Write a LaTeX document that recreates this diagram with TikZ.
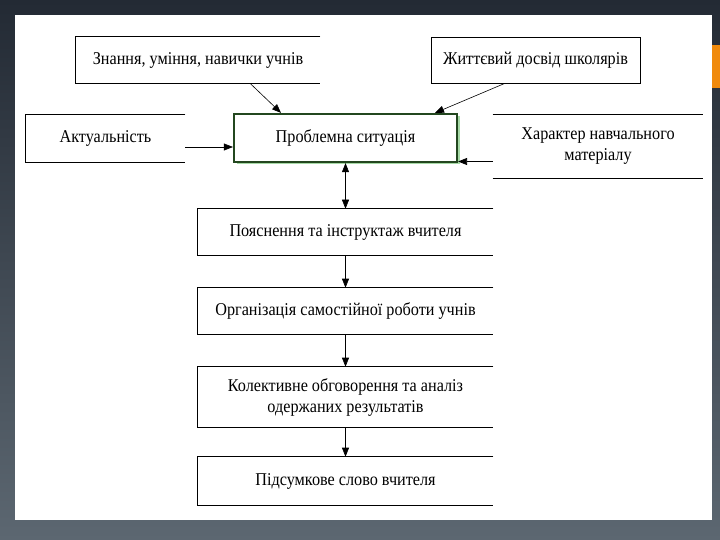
\documentclass[tikz,border=0pt]{standalone}
\usepackage{fontspec}
\setmainfont[FakeStretch=0.9]{Liberation Serif}
\usetikzlibrary{arrows.meta,positioning,shadows}
\definecolor{slidetop}{HTML}{232A34}
\definecolor{slidebot}{HTML}{5C6771}
\definecolor{tabcol}{HTML}{F08A0C}
\definecolor{framegreen}{HTML}{23471F}
\tikzset{arr/.style={-{Triangle[length=9pt,width=7pt]}},
  box/.style={minimum height=46pt, font=\fontsize{18}{21}\selectfont, align=center, inner sep=0pt}}

\begin{document}
\begin{tikzpicture}[x=1pt,y=-1pt,line width=0.6pt]
  \useasboundingbox (0,0) rectangle (720,540);
  % slide
  \shade[top color=slidetop, bottom color=slidebot] (0,0) rectangle (720,540);
  \fill[white] (15,15) rectangle (712,520);
  \fill[tabcol] (712,45) rectangle (720,88);
  % top row
  \node[box, minimum width=244pt] (skills) at (198,60) {Знання, уміння, навички учнів};
  \draw (skills.north east) -- (skills.north west) -- (skills.south west) -- (skills.south east);
  \node[box, draw, minimum width=209pt] (life) at (535.5,60) {Життєвий досвід школярів};
  % middle row
  \node[box, minimum width=159pt, minimum height=47pt] (actual) at (105.5,138.5) {Актуальність};
  \draw (actual.north east) -- (actual.north west) -- (actual.south west) -- (actual.south east);
  \node[box, minimum width=223pt, minimum height=48pt, draw=framegreen, line width=2.2pt, fill=white,
    drop shadow={shadow xshift=2.5pt, shadow yshift=-2.5pt, fill=gray!60!green!50, opacity=1}]
    (problem) at (345.5,138) {Проблемна ситуація};
  \node[box, minimum width=210pt, minimum height=63pt] (material) at (598,146.5) {Характер навчального\\матеріалу};
  \draw (material.north west) -- (material.north east);
  \draw (material.south west) -- (material.south east);
  % column
  \node[box, minimum width=295pt] (explain) at (345.5,232) {Пояснення та інструктаж вчителя};
  \node[box, minimum width=295pt] (organise) at (345.5,311) {Організація самостійної роботи учнів};
  \node[box, minimum width=295pt, minimum height=60pt] (discuss) at (345.5,397) {Колективне обговорення та аналіз\\одержаних результатів};
  \node[box, minimum width=295pt, minimum height=48pt] (summary) at (345.5,481) {Підсумкове слово вчителя};
  \foreach \n in {explain,organise,discuss,summary}
    \draw (\n.north east) -- (\n.north west) -- (\n.south west) -- (\n.south east);
  % arrows
  \draw[arr] ([xshift=52pt]skills.south) -- ([xshift=-64.5pt]problem.north);
  \draw[arr] ([xshift=-30.5pt]life.south) -- ([xshift=89.5pt]problem.north);
  \draw[arr] ([yshift=-8.5pt]actual.east) -- ([yshift=-9pt]problem.west);
  \draw[arr, line width=0.8pt] ([yshift=-15pt]material.west) -- ([yshift=-15pt]material.west -| problem.east);
  \draw[{Triangle[length=9pt,width=7pt]}-{Triangle[length=9pt,width=7pt]}] (problem.south) -- (explain.north);
  \draw[arr] (explain) -- (organise);
  \draw[arr] (organise) -- (discuss);
  \draw[arr] (discuss) -- (summary);
\end{tikzpicture}
\end{document}
